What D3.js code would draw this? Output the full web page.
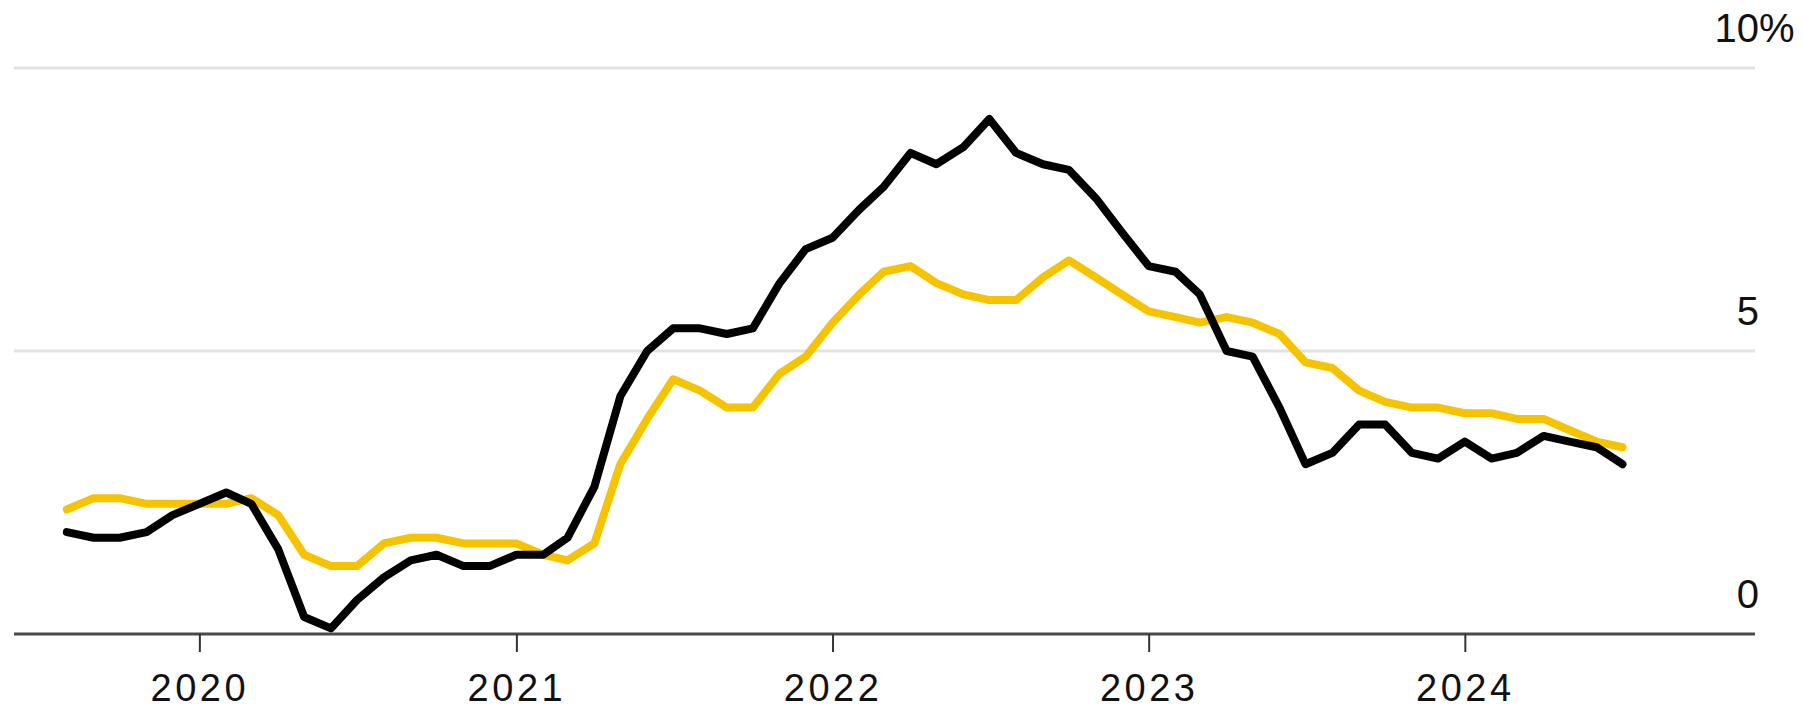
<!DOCTYPE html>
<html>
<head>
<meta charset="utf-8">
<script src="https://cdn.jsdelivr.net/npm/d3@7"></script>
<style>
    body { margin: 0; background: #fff; }
    svg { display: block; font-family: "Liberation Sans", Arial, sans-serif; }
</style>
</head>
<body>
<svg id="chart"></svg>
<script>
let W = 1803;
let H = 710;

// monthly readings, plotted at the end of each month
let months = [
    "2019-07", "2019-08", "2019-09", "2019-10", "2019-11", "2019-12",
    "2020-01", "2020-02", "2020-03", "2020-04", "2020-05", "2020-06",
    "2020-07", "2020-08", "2020-09", "2020-10", "2020-11", "2020-12",
    "2021-01", "2021-02", "2021-03", "2021-04", "2021-05", "2021-06",
    "2021-07", "2021-08", "2021-09", "2021-10", "2021-11", "2021-12",
    "2022-01", "2022-02", "2022-03", "2022-04", "2022-05", "2022-06",
    "2022-07", "2022-08", "2022-09", "2022-10", "2022-11", "2022-12",
    "2023-01", "2023-02", "2023-03", "2023-04", "2023-05", "2023-06",
    "2023-07", "2023-08", "2023-09", "2023-10", "2023-11", "2023-12",
    "2024-01", "2024-02", "2024-03", "2024-04", "2024-05", "2024-06"];

// black line
let headline = [
    1.8, 1.7, 1.7, 1.8, 2.1, 2.3,
    2.5, 2.3, 1.5, 0.3, 0.1, 0.6,
    1.0, 1.3, 1.4, 1.2, 1.2, 1.4,
    1.4, 1.7, 2.6, 4.2, 5.0, 5.4,
    5.4, 5.3, 5.4, 6.2, 6.8, 7.0,
    7.5, 7.9, 8.5, 8.3, 8.6, 9.1,
    8.5, 8.3, 8.2, 7.7, 7.1, 6.5,
    6.4, 6.0, 5.0, 4.9, 4.0, 3.0,
    3.2, 3.7, 3.7, 3.2, 3.1, 3.4,
    3.1, 3.2, 3.5, 3.4, 3.3, 3.0];

// yellow line
let core = [
    2.2, 2.4, 2.4, 2.3, 2.3, 2.3,
    2.3, 2.4, 2.1, 1.4, 1.2, 1.2,
    1.6, 1.7, 1.7, 1.6, 1.6, 1.6,
    1.4, 1.3, 1.6, 3.0, 3.8, 4.5,
    4.3, 4.0, 4.0, 4.6, 4.9, 5.5,
    6.0, 6.4, 6.5, 6.2, 6.0, 5.9,
    5.9, 6.3, 6.6, 6.3, 6.0, 5.7,
    5.6, 5.5, 5.6, 5.5, 5.3, 4.8,
    4.7, 4.3, 4.1, 4.0, 4.0, 3.9,
    3.9, 3.8, 3.8, 3.6, 3.4, 3.3];

let yTicks = [0, 5, 10];
let xTicks = ["2020", "2021", "2022", "2023", "2024"];

let parseMonth = d3.timeParse("%Y-%m");
let parseYear = d3.timeParse("%Y");

let svg = d3.select("#chart").attr("width", W).attr("height", H);

let x = d3.scaleTime()
    .domain([parseMonth("2019-06"), parseMonth("2024-12")])
    .range([14, 1755]);

let y = d3.scaleLinear()
    .domain([0, 10])
    .range([634, 68]);

// gridlines + right-side labels
let grid = svg.append("g");

grid.selectAll("line").data(yTicks).enter().append("line")
    .attr("x1", x.range()[0])
    .attr("x2", x.range()[1])
    .attr("y1", function (d) { return y(d); })
    .attr("y2", function (d) { return y(d); })
    .attr("stroke", function (d) { return d === 0 ? "#4a4a4a" : "#e2e2e2"; })
    .attr("stroke-width", 3);

grid.selectAll("text").data(yTicks).enter().append("text")
    .attr("x", 1759)
    .attr("y", function (d) { return y(d) - 26; })
    .attr("text-anchor", "end")
    .attr("font-size", 40)
    .attr("fill", "#111")
    .text(function (d) { return d; });

// the % sign hangs off past the number
svg.append("text")
    .attr("x", 1759)
    .attr("y", y(10) - 26)
    .attr("font-size", 40)
    .attr("fill", "#111")
    .text("%");

// x axis
let xAxis = d3.axisBottom(x)
    .tickValues(xTicks.map(function (d) { return parseYear(d); }))
    .tickSize(18)
    .tickPadding(22)
    .tickFormat(d3.timeFormat("%Y"));

let gx = svg.append("g")
    .attr("transform", "translate(0," + y(0) + ")")
    .call(xAxis);

gx.select(".domain").remove();
gx.selectAll(".tick line").attr("stroke", "#333").attr("stroke-width", 2);
gx.selectAll(".tick text")
    .attr("font-family", "Liberation Sans, Arial, sans-serif")
    .attr("font-size", 38)
    .attr("letter-spacing", 3.5)
    .attr("fill", "#111");

// lines
let line = d3.line()
    .x(function (d) { return x(d3.timeMonth.offset(parseMonth(d.m), 1)); })
    .y(function (d) { return y(d.v); });

function series(vals) {
    return months.map(function (m, i) { return {m: m, v: vals[i]}; });
}

svg.append("path")
    .datum(series(core))
    .attr("d", line)
    .attr("fill", "none")
    .attr("stroke", "#f6c300")
    .attr("stroke-width", 8)
    .attr("stroke-linejoin", "round")
    .attr("stroke-linecap", "round");

svg.append("path")
    .datum(series(headline))
    .attr("d", line)
    .attr("fill", "none")
    .attr("stroke", "#000")
    .attr("stroke-width", 8)
    .attr("stroke-linejoin", "round")
    .attr("stroke-linecap", "round");
</script>
</body>
</html>
